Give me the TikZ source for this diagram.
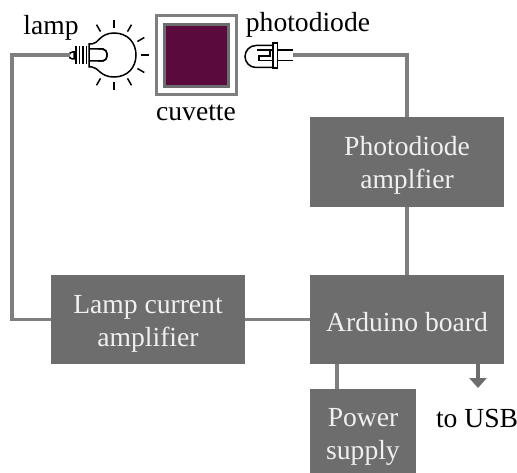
\documentclass[tikz,border=0pt]{standalone}
\usepackage{fontspec}
\setmainfont{Liberation Serif}
\usetikzlibrary{arrows.meta}
\definecolor{boxgray}{HTML}{6D6D6D}
\definecolor{wiregray}{HTML}{7F7F7F}
\definecolor{cuvettefill}{HTML}{5A0A3C}
\newcommand{\lowfirst}{\rule{0pt}{15pt}}
\tikzset{
    block/.style={fill=boxgray, text=white!94!black, align=center, inner sep=0pt, font=\fontsize{15.7}{18.9}\selectfont},
    tag/.style={inner sep=0pt, font=\fontsize{15.7}{18.7}\selectfont},
    wire/.style={draw=wiregray, line width=0.062cm},
    sym/.style={draw=black, line width=0.03cm}
}
\begin{document}
\begin{tikzpicture}[x=0.02cm, y=-0.02cm]
        \useasboundingbox (0,0) rectangle (517,473);

        % blocks
        \node[block, minimum width=3.88cm, minimum height=1.78cm] (lampamp) at (148,319.5) {\lowfirst Lamp current\\amplifier};
        \node[block, minimum width=3.88cm, minimum height=1.78cm] (board) at (407,319.5) {\rule{0pt}{13.5pt}Arduino board};
        \node[block, minimum width=3.88cm, minimum height=1.8cm] (diodeamp) at (407,162) {\lowfirst Photodiode\\amplfier};
        \node[block, minimum width=2.12cm, minimum height=1.68cm] (power) at (363,431) {\rule{0pt}{17pt}Power\\supply};

        % cuvette
        \node[draw=wiregray, line width=0.066cm, minimum width=1.6cm, minimum height=1.58cm, inner sep=0pt] (cuvette) at (196.5,55) {};
        \node[draw=boxgray, fill=cuvettefill, line width=0.06cm, minimum width=1.28cm, minimum height=1.26cm, inner sep=0pt] (sample) at (196.5,55.5) {};

        % lamp
        \coordinate (bulb) at (114,55);
        \coordinate (lampplug) at (70,55);
        \draw[sym] (89,44) -- (92,44) .. controls (98,44) and (100,33) .. (114,33)
            .. controls (128,33) and (136,43) .. (136,55)
            .. controls (136,67) and (128,77) .. (114,77)
            .. controls (100,77) and (98,67) .. (92,67) -- (89,67) -- cycle;
        \foreach \xx in {76,79.5,83,86.5}
            \draw[sym] (\xx,46.5) -- (\xx,64.5);
        \draw[sym] (74,52) -- (72.5,52) arc (-90:-270:3.5) -- (74,59) -- cycle;
        \draw[sym] (89,49) -- (103,49) arc[start angle=-90, end angle=90, x radius=4, y radius=6] -- (98,61);
        \draw[sym] (89,61) -- (103,61) arc[start angle=90, end angle=-90, x radius=4, y radius=6] -- (98,49);
        \foreach \ang in {-120,-90,-60,-30,0,30,60,90,120}
            \draw[sym] (bulb) ++(\ang:27) -- ++(\ang:8);

        % photodiode
        \coordinate (diodeplug) at (293,55);
        \draw[sym] (273,45.5) -- (256,45.5) arc (-90:-270:11) -- (273,67.5);
        \draw[sym] (273,43) rectangle (277.5,68);
        \draw[sym] (277.5,50) -- (293,50);
        \draw[sym] (277.5,60.5) -- (293,60.5);
        \draw[sym] (273,50) -- (257,50);
        \draw[sym] (273,60.5) -- (259,60.5) -- (259,56) -- (270,56) -- (270,50);

        % labels
        \node[tag] (lamptext) at (51,28) {lamp};
        \node[tag] (cuvettetext) at (196,113) {cuvette};
        \node[tag] (diodetext) at (308,25) {photodiode};
        \node[tag] (usbtext) at (477,418) {to USB};

        % wires
        \coordinate (lampcorner) at (12,55);
        \coordinate (diodecorner) at (407,55);
        \coordinate (powertap) at (337,389);
        \coordinate (usbend) at (478,388);
        \draw[wire] (lampplug) -- (lampcorner) |- (lampamp.west);
        \draw[wire] (lampamp) -- (board);
        \draw[wire] (diodeplug) -- (diodecorner) -- (diodeamp.north);
        \draw[wire] (diodeamp) -- (board);
        \draw[wire] (board.south -| powertap) -- (powertap);
        \draw[wire, draw=boxgray, -{Triangle[length=0.2cm, width=0.34cm]}] (board.south -| usbend) -- (usbend);
\end{tikzpicture}
\end{document}
